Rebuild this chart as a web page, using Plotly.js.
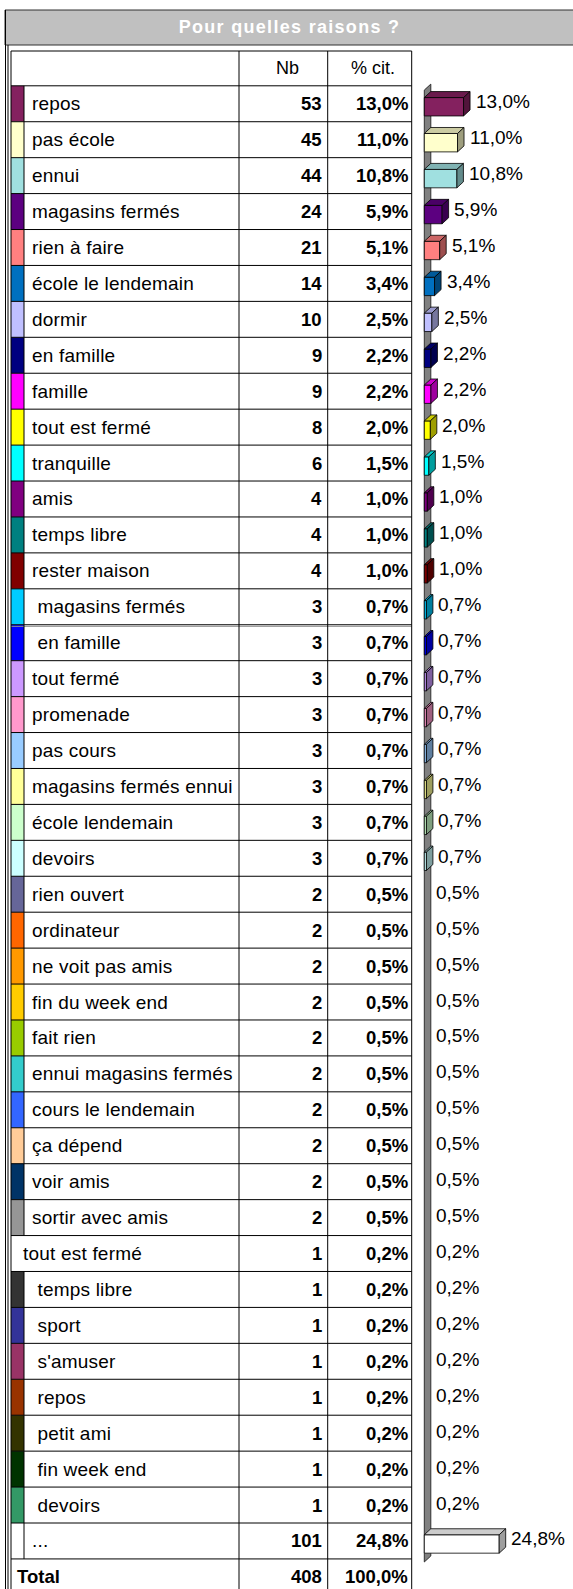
<!DOCTYPE html>
<html><head><meta charset="utf-8">
<script src="https://cdn.plot.ly/plotly-3.0.1.min.js"></script>
<style>html,body{margin:0;padding:0;background:#fff;overflow:hidden}
g.annotation[data-index="0"] text{letter-spacing:1.3px}</style>
</head><body><div id="chart" style="width:573px;height:1589px"></div>
<script>
// ---------- DATA ----------
const chartTitle = "Pour quelles raisons ?";
const headers = ["", "Nb", "% cit."];
const labels = ["repos","pas école","ennui","magasins fermés","rien à faire","école le lendemain","dormir","en famille","famille","tout est fermé","tranquille","amis","temps libre","rester maison"," magasins fermés"," en famille","tout fermé","promenade","pas cours","magasins fermés ennui","école lendemain","devoirs","rien ouvert","ordinateur","ne voit pas amis","fin du week end","fait rien","ennui magasins fermés","cours le lendemain","ça dépend","voir amis","sortir avec amis","tout est fermé"," temps libre"," sport"," s'amuser"," repos"," petit ami"," fin week end"," devoirs","..."];
const counts = [53,45,44,24,21,14,10,9,9,8,6,4,4,4,3,3,3,3,3,3,3,3,2,2,2,2,2,2,2,2,2,2,1,1,1,1,1,1,1,1,101];
const pct = [13.0,11.0,10.8,5.9,5.1,3.4,2.5,2.2,2.2,2.0,1.5,1.0,1.0,1.0,0.7,0.7,0.7,0.7,0.7,0.7,0.7,0.7,0.5,0.5,0.5,0.5,0.5,0.5,0.5,0.5,0.5,0.5,0.2,0.2,0.2,0.2,0.2,0.2,0.2,0.2,24.8];
// bars visible in the chart (no bar drawn for the 0,5% and 0,2% rows)
const barPct = [13.0,11.0,10.8,5.9,5.1,3.4,2.5,2.2,2.2,2.0,1.5,1.0,1.0,1.0,0.7,0.7,0.7,0.7,0.7,0.7,0.7,0.7,null,null,null,null,null,null,null,null,null,null,null,null,null,null,null,null,null,null,24.8];
const colors = ["#84215f","#ffffcc","#a0e0e0","#5c0080","#ff8080","#0070c0","#c0c0ff","#000080","#ff00ff","#ffff00","#00ffff","#800080","#008080","#800000","#00ccff","#0000ff","#cc99ff","#ff99cc","#99ccff","#ffff99","#ccffcc","#ccffff","#666699","#ff6600","#ff9900","#ffcc00","#99cc00","#33cccc","#3366ff","#ffcc99","#003366","#969696",null,"#333333","#333399","#993366","#993300","#333300","#003300","#339966","#ffffff"];
const totalLabel = "Total";
const totalCount = 408;
const totalPct = 100.0;

// ---------- GEOMETRY ----------
const W = 573, H = 1589;
const ROW0 = 103.76, ROWH = 35.93;
const PX0 = 424.3, PXPCT = 3.02;
const dx = 6.5 / PXPCT, dy = 6 / ROWH;
const n = labels.length;
const xp = px => px / W;
const yp = py => 1 - py / H;
const TL = 11, TS = 24, C1 = 239, C2 = 327.7, TR = 411.7;
const headTop = (51 - ROW0) / ROWH;
const FONT = '"Liberation Sans", Arial, sans-serif';

function shade(hex, f) {
  const v = parseInt(hex.slice(1), 16);
  const r = Math.round(((v >> 16) & 255) * f), g = Math.round(((v >> 8) & 255) * f), b = Math.round((v & 255) * f);
  return `rgb(${r},${g},${b})`;
}
const fmtPct = v => v.toFixed(1).replace('.', ',') + '%';

// ---------- SHAPES ----------
const shapes = [];
const L = (x0, y0, x1, y1, xref, yref, color, width) =>
  shapes.push({type: 'line', x0, y0, x1, y1, xref, yref, line: {color, width}, layer: 'above'});

shapes.push({type: 'rect', xref: 'paper', yref: 'paper', x0: xp(5), x1: xp(W + 2), y0: yp(10), y1: yp(45),
  fillcolor: '#c0c0c0', line: {color: '#303030', width: 1}, layer: 'above'});
L(xp(5.5), yp(10), xp(5.5), yp(H + 2), 'paper', 'paper', '#000', 1);
L(xp(8), yp(45), xp(8), yp(H + 2), 'paper', 'paper', '#000', 1);

colors.forEach((c, i) => {
  if (c) shapes.push({type: 'rect', xref: 'paper', yref: 'y', x0: xp(TL), x1: xp(TS), y0: i - 0.5, y1: i + 0.5,
    fillcolor: c, line: {width: 0}, layer: 'above'});
});
L(xp(TL), headTop, xp(TR), headTop, 'paper', 'y', '#000', 1);
for (let b = 0; b <= n + 1; b++) L(xp(TL), b - 0.5, xp(TR), b - 0.5, 'paper', 'y', '#000', 1);
L(xp(TL), 14.5 + 1.6 / ROWH, xp(TR), 14.5 + 1.6 / ROWH, 'paper', 'y', '#909090', 1);
[TL, C1, C2, TR].forEach(x => L(xp(x), headTop, xp(x), n + 0.5, 'paper', 'y', '#000', 1));
colors.forEach((c, i) => { if (c) L(xp(TS), i - 0.5, xp(TS), i + 0.5, 'paper', 'y', '#000', 1); });

const wT = -0.38, wB = (n - 1) + 0.585;
shapes.push({type: 'path', xref: 'x', yref: 'y', layer: 'below',
  path: `M 0,${wT} L ${dx},${wT - dy} L ${dx},${wB - dy} L 0,${wB} Z`,
  fillcolor: '#808080', line: {color: '#303030', width: 1}});

// ---------- TRACES ----------
const ys = labels.map((_, i) => i + 3 / ROWH);
const barH = 18.4 / ROWH;
const traces = [{
  type: 'bar', orientation: 'h', x: barPct, y: ys, base: 0, width: barH,
  marker: {color: colors.map(c => c || '#ffffff'), line: {color: '#000', width: 0.8}},
  hoverinfo: 'skip', showlegend: false
}];
barPct.forEach((v, i) => {
  if (v == null) return;
  const c = colors[i] || '#ffffff';
  const top = ys[i] - barH / 2, bot = ys[i] + barH / 2;
  traces.push({type: 'scatter', mode: 'lines', x: [0, v, v + dx, dx, 0], y: [top, top, top - dy, top - dy, top],
    fill: 'toself', fillcolor: shade(c, 0.8), line: {color: '#000', width: 0.8}, hoverinfo: 'skip', showlegend: false});
  traces.push({type: 'scatter', mode: 'lines', x: [v, v + dx, v + dx, v, v], y: [top, top - dy, bot - dy, bot, top],
    fill: 'toself', fillcolor: shade(c, 0.62), line: {color: '#000', width: 0.8}, hoverinfo: 'skip', showlegend: false});
});

// ---------- ANNOTATIONS ----------
const ann = [];
const labelIdx = [];
const A = o => { ann.push(Object.assign({showarrow: false, borderpad: 0, borderwidth: 0, yanchor: 'middle'}, o)); return ann.length - 1; };
A({text: '<b>' + chartTitle + '</b>', xref: 'paper', yref: 'paper', x: xp(289), y: yp(27.5), xanchor: 'center',
  font: {family: FONT, size: 18, color: '#ffffff'}});
const hy = (headTop - 0.5) / 2;
A({text: headers[1], xref: 'paper', yref: 'y', x: xp(287), y: hy, xanchor: 'center', font: {family: FONT, size: 18, color: '#000'}});
A({text: headers[2], xref: 'paper', yref: 'y', x: xp(372.5), y: hy, xanchor: 'center', font: {family: FONT, size: 18, color: '#000'}});

labels.forEach((lab, i) => {
  const lx = colors[i] ? 32 : 22.5;
  labelIdx.push(A({text: lab.replace(/^ /, '\u00a0'), xref: 'paper', yref: 'y', x: xp(lx), y: i, xanchor: 'left', align: 'left',
    font: {family: FONT, size: 19, color: '#000'}}));
  A({text: '<b>' + counts[i] + '</b>', xref: 'paper', yref: 'y', x: xp(321.5), y: i, xanchor: 'right', align: 'right',
    font: {family: FONT, size: 18.5, color: '#000'}});
  A({text: '<b>' + fmtPct(pct[i]) + '</b>', xref: 'paper', yref: 'y', x: xp(408), y: i, xanchor: 'right', align: 'right',
    font: {family: FONT, size: 18.5, color: '#000'}});
  A({text: fmtPct(pct[i]), xref: 'x', yref: 'y', x: barPct[i] == null ? 0 : barPct[i], y: i, xanchor: 'left', align: 'left',
    xshift: 12, yshift: 2, font: {family: FONT, size: 19, color: '#000'}});
});
A({text: '<b>' + totalLabel + '</b>', xref: 'paper', yref: 'y', x: xp(17), y: n, xanchor: 'left', align: 'left', font: {family: FONT, size: 18.5, color: '#000'}});
A({text: '<b>' + totalCount + '</b>', xref: 'paper', yref: 'y', x: xp(321.5), y: n, xanchor: 'right', align: 'right', font: {family: FONT, size: 18.5, color: '#000'}});
A({text: '<b>' + fmtPct(totalPct) + '</b>', xref: 'paper', yref: 'y', x: xp(408), y: n, xanchor: 'right', align: 'right', font: {family: FONT, size: 18.5, color: '#000'}});

// slight letter spacing for the row labels (reference text is a little spaced)
const st = document.createElement('style');
st.textContent = labelIdx.map(k => `g.annotation[data-index="${k}"] text`).join(',') + '{letter-spacing:0.2px}';
document.head.appendChild(st);

const layout = {
  width: W, height: H, margin: {l: 0, r: 0, t: 0, b: 0, pad: 0},
  paper_bgcolor: '#ffffff', plot_bgcolor: '#ffffff', showlegend: false,
  xaxis: {range: [-PX0 / PXPCT, (W - PX0) / PXPCT], visible: false, fixedrange: true},
  yaxis: {range: [(H - ROW0) / ROWH, -ROW0 / ROWH], visible: false, fixedrange: true},
  shapes, annotations: ann, bargap: 0
};
Plotly.newPlot('chart', traces, layout, {staticPlot: true, displayModeBar: false});
</script></body></html>
